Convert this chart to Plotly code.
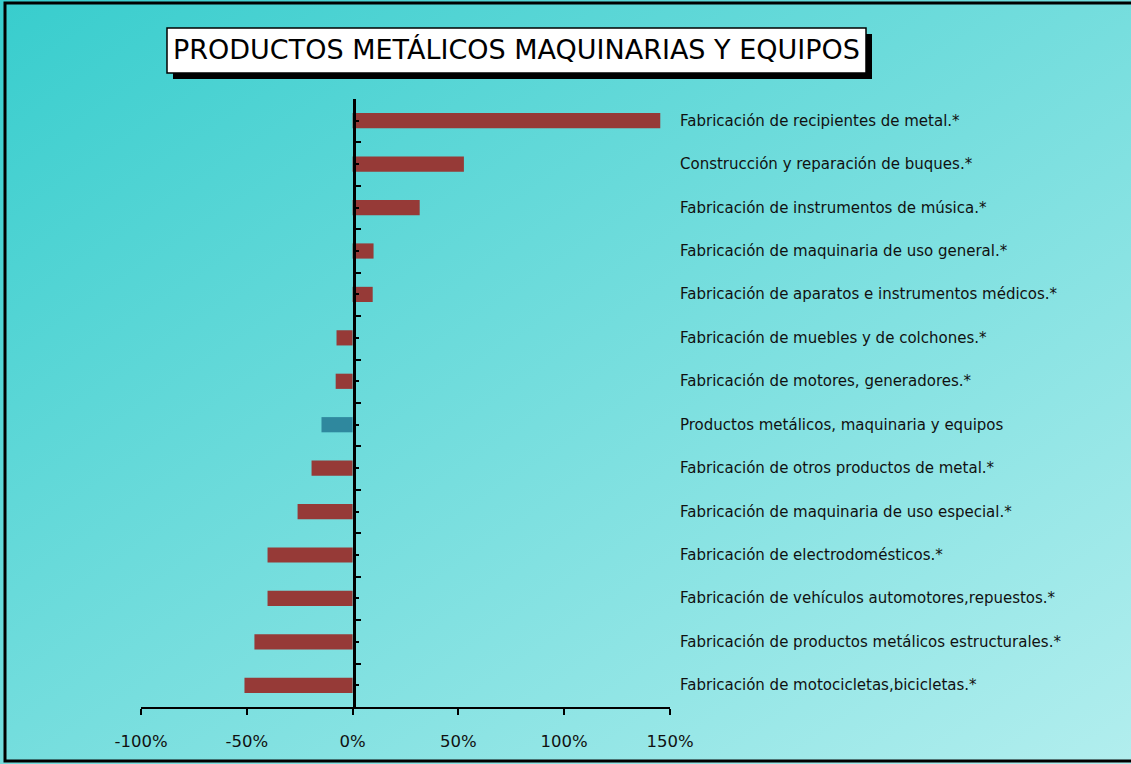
import base64
import plotly.graph_objects as go

categories = [
    "Fabricación de recipientes de metal.*",
    "Construcción y reparación de buques.*",
    "Fabricación de instrumentos de música.*",
    "Fabricación de maquinaria de uso general.*",
    "Fabricación de aparatos e instrumentos médicos.*",
    "Fabricación de muebles y de colchones.*",
    "Fabricación de motores, generadores.*",
    "Productos metálicos, maquinaria y equipos",
    "Fabricación de otros productos de metal.*",
    "Fabricación de maquinaria de uso especial.*",
    "Fabricación de electrodomésticos.*",
    "Fabricación de vehículos automotores,repuestos.*",
    "Fabricación de productos metálicos estructurales.*",
    "Fabricación de motocicletas,bicicletas.*",
]
values = [145.4, 52.6, 31.7, 9.9, 9.5, -7.6, -8.0, -14.7, -19.4, -26.0, -40.2, -40.2, -46.4, -51.1]
bar_colors = ["#963A37"] * 7 + ["#2F889E"] + ["#963A37"] * 6
tick_values = [-100, -50, 0, 50, 100, 150]
tick_labels = ["-100%", "-50%", "0%", "50%", "100%", "150%"]
title_text = "PRODUCTOS METÁLICOS MAQUINARIAS Y EQUIPOS"

W, H = 1131, 764
L, R, T, B = 141, 461, 99, 57
PW, PH = W - L - R, H - T - B


def px(xp):
    return (xp - L) / PW


def py(yp):
    return (H - B - yp) / PH


n = len(categories)
ypos = list(range(n))

fig = go.Figure()
fig.add_trace(go.Bar(
    x=values, y=ypos, orientation="h",
    marker=dict(color=bar_colors, line=dict(width=0)),
    width=0.35, hoverinfo="skip",
))

svg = (
    '<svg xmlns="http://www.w3.org/2000/svg" width="1131" height="764" preserveAspectRatio="none">'
    '<defs><linearGradient id="g" x1="0" y1="0" x2="1" y2="1">'
    '<stop offset="0" stop-color="#38CDCD"/>'
    '<stop offset="1" stop-color="#B2EEEE"/>'
    '</linearGradient></defs>'
    '<rect x="0" y="0" width="1131" height="764" fill="url(#g)"/></svg>'
)
src = "data:image/svg+xml;base64," + base64.b64encode(svg.encode()).decode()

fig.add_layout_image(dict(
    source=src, xref="paper", yref="paper",
    x=px(0), y=py(0), sizex=W / PW, sizey=H / PH,
    xanchor="left", yanchor="top", sizing="stretch", layer="below",
))

shapes = [
    # outer border
    dict(type="rect", xref="paper", yref="paper",
         x0=px(5), x1=px(1145), y0=py(3), y1=py(761),
         line=dict(color="black", width=3), fillcolor="rgba(0,0,0,0)"),
    # title shadow
    dict(type="rect", xref="paper", yref="paper",
         x0=px(173), x1=px(872), y0=py(34), y1=py(79),
         line=dict(width=0), fillcolor="black"),
    # title box
    dict(type="rect", xref="paper", yref="paper",
         x0=px(167), x1=px(866), y0=py(28), y1=py(73),
         line=dict(color="black", width=1.5), fillcolor="white"),
]

annotations = [dict(
    text=title_text, xref="paper", yref="paper", x=px(516), y=py(50),
    xanchor="center", yanchor="middle", showarrow=False,
    font=dict(family="DejaVu Sans", size=27, color="black"),
)]
for i, c in enumerate(categories):
    annotations.append(dict(
        text=c, xref="paper", yref="y", x=px(678), y=i,
        xanchor="left", yanchor="middle", showarrow=False,
        font=dict(family="DejaVu Sans", size=15, color="#111111"),
    ))

fig.update_layout(
    width=W, height=H,
    margin=dict(l=L, r=R, t=T, b=B, pad=0),
    paper_bgcolor="rgba(0,0,0,0)", plot_bgcolor="rgba(0,0,0,0)",
    showlegend=False,
    shapes=shapes, annotations=annotations,
    xaxis=dict(
        range=[-100, 150], domain=[0, 1],
        tickvals=tick_values, ticktext=tick_labels,
        showgrid=False, zeroline=False,
        showline=True, linecolor="black", linewidth=2,
        ticks="outside", ticklen=6, tickwidth=2, tickcolor="black",
        ticklabelstandoff=12,
        tickfont=dict(family="DejaVu Sans", size=16.5, color="#111111"),
    ),
    yaxis=dict(
        range=[n - 0.5, -0.5],
        anchor="free", position=px(354),
        showgrid=False, zeroline=False,
        showline=True, linecolor="black", linewidth=2.5,
        showticklabels=False,
        tickmode="linear", tick0=-0.5, dtick=1,
        ticks="inside", ticklen=5, tickwidth=2, tickcolor="black",
        minor=dict(tickmode="linear", tick0=0, dtick=1, ticks="inside",
                   ticklen=3, tickwidth=2, tickcolor="black"),
    ),
)

fig.write_html(
    "out.html",
    config={"displayModeBar": False},
    post_script="document.body.style.margin='0';document.body.style.overflow='hidden';",
)
